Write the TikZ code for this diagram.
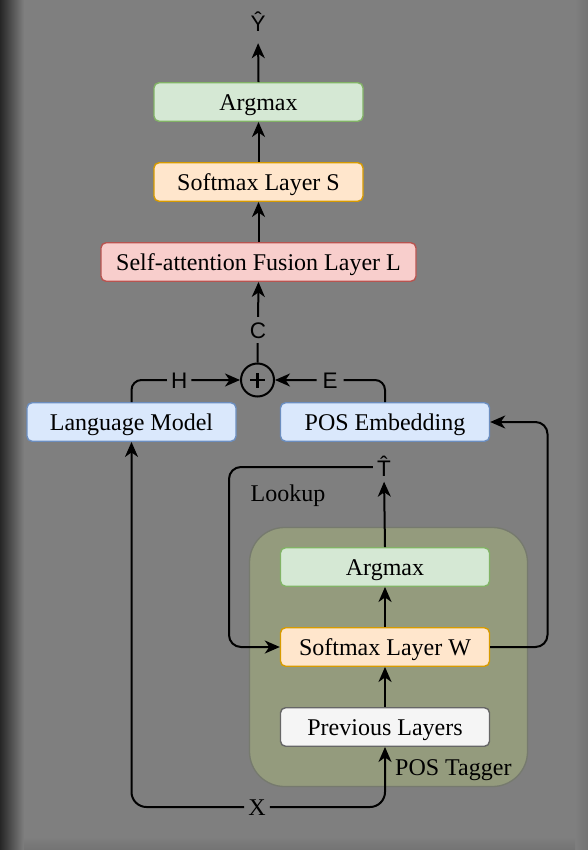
\documentclass[tikz,border=0pt]{standalone}
\usepackage{fontspec}
\setmainfont{Liberation Serif}
\newfontfamily\lblsans{Liberation Sans}
\usetikzlibrary{arrows.meta}
\definecolor{bgc}{HTML}{7F7F7F}
\definecolor{grpfill}{HTML}{949B7D}
\definecolor{grpdraw}{HTML}{767A6E}
\definecolor{gfill}{HTML}{D5E8D4}\definecolor{gdraw}{HTML}{82B366}
\definecolor{ofill}{HTML}{FFE6CC}\definecolor{odraw}{HTML}{D79B00}
\definecolor{rfill}{HTML}{F8CECC}\definecolor{rdraw}{HTML}{B85450}
\definecolor{bfill}{HTML}{DAE8FC}\definecolor{bdraw}{HTML}{6C8EBF}
\definecolor{wfill}{HTML}{F5F5F5}\definecolor{wdraw}{HTML}{666666}
\newcommand\serifsz{\fontsize{24}{28}\selectfont}
\newcommand\sanssz{\lblsans\fontsize{22.5}{26}\selectfont}
\begin{document}
\begin{tikzpicture}[x=1pt,y=-1pt,
  box/.style={draw, rounded corners=5pt, line width=1.4pt, minimum width=209pt,
    minimum height=38.5pt, inner sep=0pt, text height=19pt, text depth=1.5pt, font=\serifsz},
  arr/.style={-{Stealth[length=15pt,width=13pt,inset=4.5pt]}, line width=2pt, black},
  lbl/.style={fill=bgc, inner xsep=4pt, inner ysep=3pt, text height=16pt, text depth=0pt, font=\sanssz},
  txt/.style={inner sep=0pt, font=\serifsz}]
\useasboundingbox (0,0) rectangle (588,850);
% background
\fill[bgc] (0,0) rectangle (588,850);
\shade[left color=black!85, right color=bgc] (0,0) rectangle (24,850);
\shade[left color=bgc, right color=black!55] (575,0) rectangle (588,850);
\shade[top color=bgc, bottom color=black!55] (24,837) rectangle (575,850);

% POS tagger group
\node (tagger) [draw=grpdraw, fill=grpfill, line width=1.3pt, rounded corners=35pt,
  minimum width=278pt, minimum height=259pt, inner sep=0pt] at (388.5,657) {};
\node (tagl) [txt, anchor=base west] at (395,775) {POS Tagger};

% boxes
\node (am1) [box, fill=gfill, draw=gdraw] at (258.5,102) {Argmax};
\node (sm1) [box, fill=ofill, draw=odraw] at (258.5,182) {Softmax Layer S};
\node (sa)  [box, fill=rfill, draw=rdraw, minimum width=315pt] at (258.5,262) {Self-attention Fusion Layer L};
\node (lm)  [box, fill=bfill, draw=bdraw] at (131.5,422) {Language Model};
\node (pe)  [box, fill=bfill, draw=bdraw] at (385,422) {POS Embedding};
\node (am2) [box, fill=gfill, draw=gdraw] at (385,567) {Argmax};
\node (smw) [box, fill=ofill, draw=odraw] at (385,647) {Softmax Layer W};
\node (prev) [box, fill=wfill, draw=wdraw] at (385,727) {Previous Layers};

% plus circle
\node (plus) [circle, draw, line width=2pt, minimum size=33pt, inner sep=0pt] at (257.5,380) {};
\draw[line width=2.2pt] ([yshift=-7.5pt]plus.center) -- ([yshift=7.5pt]plus.center)
  ([xshift=-7.5pt]plus.center) -- ([xshift=7.5pt]plus.center);

% text labels
\node (yhat) [inner sep=0pt, text depth=0pt, font=\sanssz, anchor=base] at (258,32) {\^{Y}};
\node (that) [inner ysep=0pt, inner xsep=4pt, text height=19pt, text depth=0pt, font=\sanssz] at (384,467) {\^{T}};
\node (lookl) [txt, anchor=base west] at (250.5,501) {Lookup};
\node (xl) [inner xsep=4pt, inner ysep=0pt, text height=16pt, text depth=0pt, font=\serifsz] at (257,807) {X};
\coordinate (lkx) at (229,550);
\coordinate (rx) at (547.5,530);

% connectors
\draw[arr, shorten >=11pt] (am1.north) -- (yhat.south);
\draw[arr] (sm1.north) -- (am1.south);
\draw[arr] (sa.north) -- (sm1.south);
\draw[arr] (plus.north) -- node[lbl, pos=0.4, inner ysep=5pt, inner xsep=3pt] (cl) {C} (sa.south);
\draw[arr, rounded corners=10pt] (lm.north) |- node[lbl, pos=0.72] (hl) {H} (plus.west);
\draw[arr, rounded corners=10pt] (pe.north) |- node[lbl, pos=0.75, inner xsep=6pt] (el) {E} (plus.east);
\draw[arr, shorten >=5pt] (am2.north) -- (that.south);
\draw[arr] (smw.north) -- (am2.south);
\draw[arr] (prev.north) -- (smw.south);
\draw[arr, rounded corners=12pt] (that.west) -| (lkx) |- (smw.west);
\draw[arr, rounded corners=12pt] (smw.east) -| (rx) |- (pe.east);
\draw[arr, rounded corners=15pt] (xl.west) -| (lm.south);
\draw[arr, rounded corners=15pt] (xl.east) -| (prev.south);
\end{tikzpicture}
\end{document}
